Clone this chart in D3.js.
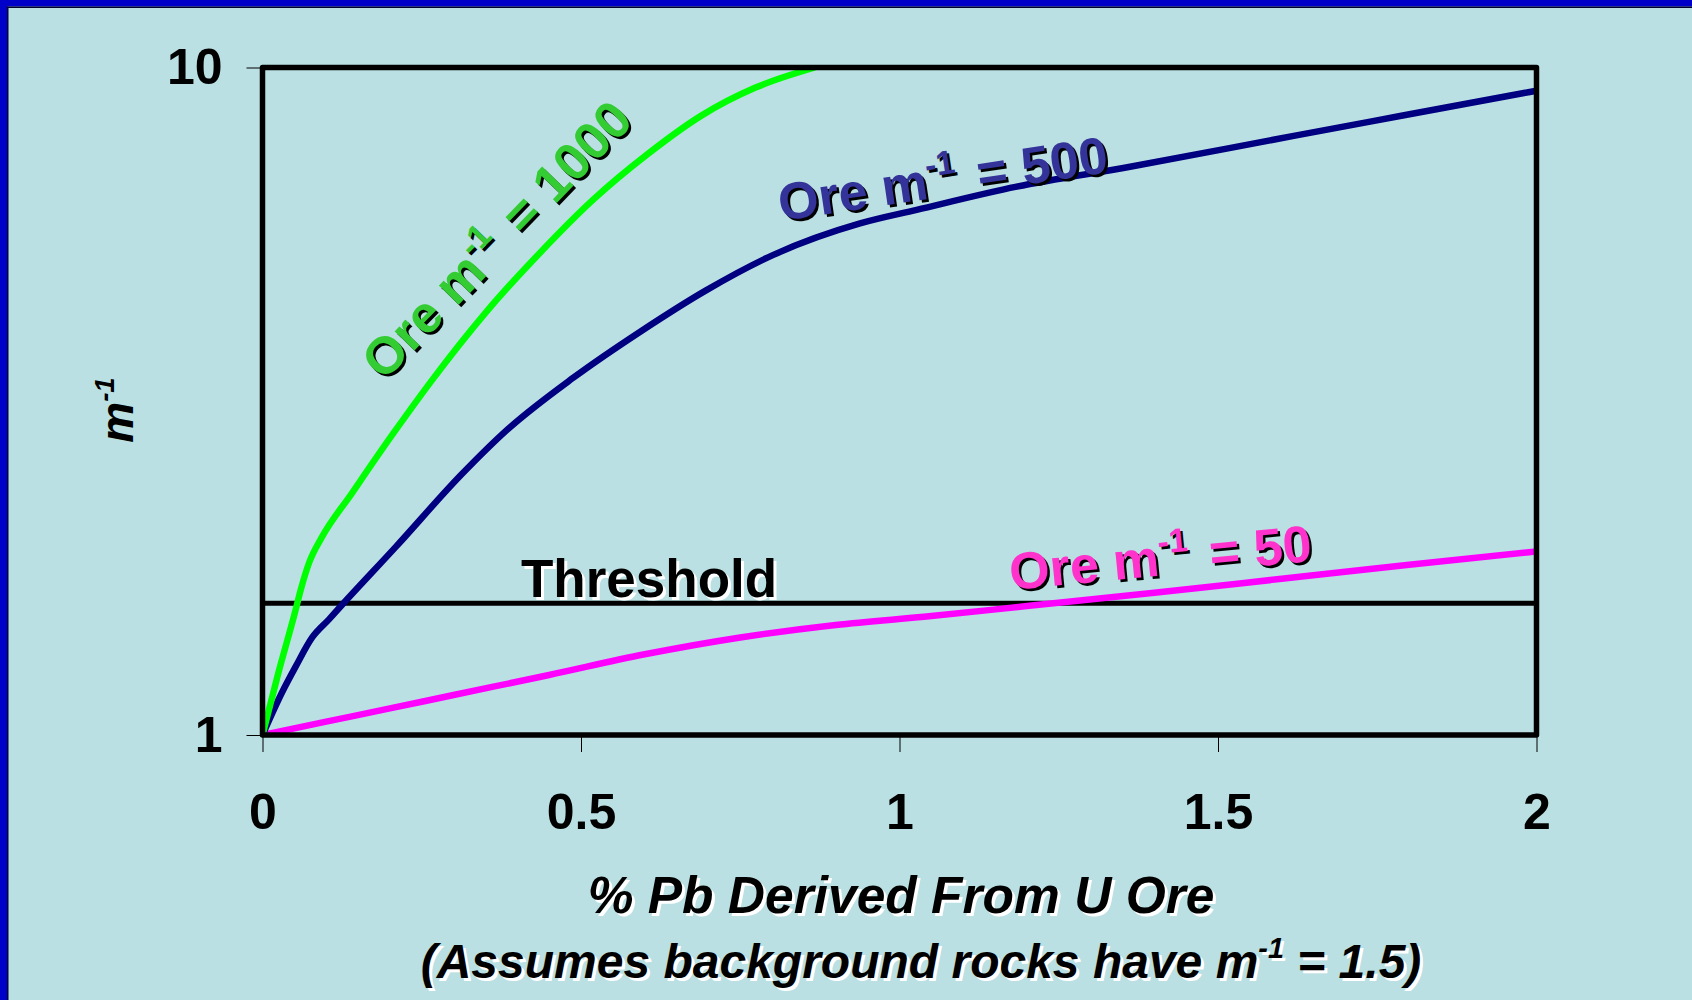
<!DOCTYPE html>
<html>
<head>
<meta charset="utf-8">
<script src="https://cdn.jsdelivr.net/npm/d3@7"></script>
<style>
  html, body { margin: 0; padding: 0; background: #bae0e3; }
  svg { display: block; }
  text { white-space: pre; }
</style>
</head>
<body>
<div id="chart"></div>
<script>
// values: % Pb from ore vs m^-1 (log scale)
const xTicks = [0, 0.5, 1, 1.5, 2];
const yTicks = [1, 10];
const thresholdLevel = 1.575;

const pb1000 = [0, 0.025, 0.052, 0.06, 0.073, 0.093, 0.14, 0.203, 0.265, 0.35, 0.435, 0.52, 0.604, 0.689, 0.774, 0.867];
const m1000  = [1, 1.24, 1.54, 1.65, 1.81, 1.977, 2.30, 2.81, 3.39, 4.29, 5.27, 6.35, 7.41, 8.47, 9.33, 10];

const pb500 = [0, 0.03, 0.052, 0.078, 0.104, 0.125, 0.2085, 0.313, 0.383, 0.488, 0.593, 0.697, 0.802, 0.938, 1.027, 1.184, 1.362, 1.621, 1.79, 2.0];
const m500  = [1, 1.155, 1.266, 1.40, 1.489, 1.567, 1.91, 2.46, 2.86, 3.43, 4.02, 4.64, 5.24, 5.84, 6.12, 6.63, 7.10, 7.907, 8.472, 9.23];

const pb50 = [0, 0.1, 0.2, 0.3, 0.45, 0.6, 0.75, 0.9, 1.05, 1.2, 1.4, 1.6, 1.8, 2.0];
const m50  = [1, 1.047, 1.096, 1.148, 1.230, 1.321, 1.400, 1.462, 1.507, 1.560, 1.633, 1.714, 1.799, 1.884];

const W = 1692, H = 1000;
const plotL = 262.5, plotR = 1536.5, plotT = 67.5, plotB = 735;
const FONT = "Arial, 'Liberation Sans', sans-serif";

const svg = d3.select("#chart").append("svg")
  .attr("width", W).attr("height", H);

// slide background + blue frame on top/left
svg.append("rect").attr("width", W).attr("height", H).attr("fill", "#bae0e3");
svg.append("rect").attr("x", 0).attr("y", 0).attr("width", W).attr("height", 6.5).attr("fill", "#0000c8");
svg.append("rect").attr("x", 0).attr("y", 0).attr("width", 7).attr("height", H).attr("fill", "#0000c8");
svg.append("rect").attr("x", 7).attr("y", 6.5).attr("width", W).attr("height", 1.5).attr("fill", "#000030");
svg.append("rect").attr("x", 7).attr("y", 6.5).attr("width", 1.5).attr("height", H).attr("fill", "#000030");

const x = d3.scaleLinear().domain([0, 2]).range([plotL, plotR]);
const y = d3.scaleLog().domain([1, 10]).range([plotB, plotT]);

// axes (thin outward ticks)
const gx = svg.append("g")
  .attr("transform", `translate(0,${plotB})`)
  .call(d3.axisBottom(x).tickValues(xTicks).tickSize(17).tickPadding(41)
    .tickFormat(d => String(d)));
const gy = svg.append("g")
  .attr("transform", `translate(${plotL},0)`)
  .call(d3.axisLeft(y).tickValues(yTicks).tickSize(16).tickPadding(24)
    .tickFormat(d => String(d)));

[gx, gy].forEach(g => {
  g.select(".domain").remove();
  g.selectAll(".tick line").attr("stroke", "#000").attr("stroke-width", 1);
  g.selectAll(".tick text")
    .attr("fill", "#000")
    .attr("font-family", FONT)
    .attr("font-weight", "bold")
    .attr("font-size", 50);
});

svg.append("clipPath").attr("id", "plotclip")
  .append("rect")
  .attr("x", plotL).attr("y", plotT)
  .attr("width", plotR - plotL).attr("height", plotB - plotT);

const line = d3.line()
  .x(d => x(d[0]))
  .y(d => y(d[1]))
  .curve(d3.curveMonotoneX);

const series = [
  { xs: pb50, ys: m50, color: "#ff00ff" },
  { xs: pb500, ys: m500, color: "#000080" },
  { xs: pb1000, ys: m1000, color: "#00ff00" }
];

// threshold line
svg.append("line")
  .attr("x1", x(0)).attr("x2", x(2))
  .attr("y1", y(thresholdLevel)).attr("y2", y(thresholdLevel))
  .attr("stroke", "#000").attr("stroke-width", 5);

const curves = svg.append("g").attr("clip-path", "url(#plotclip)");
series.forEach(s => {
  curves.append("path")
    .datum(d3.zip(s.xs, s.ys))
    .attr("fill", "none")
    .attr("stroke", s.color)
    .attr("stroke-width", 6.5)
    .attr("stroke-linejoin", "round")
    .attr("d", line);
});

// plot frame
svg.append("rect")
  .attr("x", plotL).attr("y", plotT)
  .attr("width", plotR - plotL).attr("height", plotB - plotT)
  .attr("fill", "none")
  .attr("stroke", "#000")
  .attr("stroke-width", 5.5)
  .attr("stroke-linejoin", "round");

// text with an offset copy behind it (shadow)
function label(parts, px, py, angle, opt) {
  const supScale = opt.supScale || 0.6;
  const draw = (dx, dy, fill) => {
    const t = svg.append("text")
      .attr("transform", `translate(${px + dx},${py + dy}) rotate(${angle})`)
      .attr("font-family", FONT)
      .attr("font-weight", "bold")
      .attr("font-style", opt.italic ? "italic" : "normal")
      .attr("font-size", opt.size)
      .attr("text-anchor", opt.anchor || "start")
      .attr("fill", fill);
    parts.forEach(p => {
      const ts = t.append("tspan").text(p.t);
      if (p.sup) ts.attr("font-size", opt.size * supScale).attr("dy", -opt.size * 0.42);
      if (p.down) ts.attr("dy", opt.size * 0.42);
      if (p.gap) ts.attr("dx", p.gap);
    });
  };
  if (opt.shadow) draw(opt.sdx || 2.5, opt.sdy || 2.5, opt.shadow);
  draw(0, 0, opt.color);
}

const orePrefix = [{ t: "Ore m" }, { t: "-1", sup: true }];

label(orePrefix.concat([{ t: " = 1000", down: true, gap: 6 }]), 384, 382, -46,
  { size: 52, supScale: 0.65, color: "#33cc33", shadow: "#000" });
label(orePrefix.concat([{ t: " = 500", down: true, gap: 6 }]), 781, 221, -8.5,
  { size: 52, supScale: 0.65, color: "#333399", shadow: "#000" });
label(orePrefix.concat([{ t: " = 50", down: true, gap: 6 }]), 1011, 590, -5.5,
  { size: 52, supScale: 0.65, color: "#ff33cc", shadow: "#000" });

label([{ t: "Threshold" }], 521, 597, 0,
  { size: 53, color: "#000", shadow: "#fff", sdx: 3, sdy: 3 });

// axis titles
label([{ t: "m" }, { t: "-1", sup: true }], 133, 410, -90,
  { size: 46, italic: true, color: "#000", anchor: "middle" });

label([{ t: "% Pb Derived From U Ore" }], 901, 913, 0,
  { size: 51.5, italic: true, color: "#000", anchor: "middle", shadow: "#fff", sdx: 3, sdy: 3 });
label([{ t: "(Assumes background rocks have m" }, { t: "-1", sup: true }, { t: " = 1.5)", down: true }], 921, 978, 0,
  { size: 48, italic: true, color: "#000", anchor: "middle", shadow: "#fff", sdx: 3, sdy: 3 });
</script>
</body>
</html>
